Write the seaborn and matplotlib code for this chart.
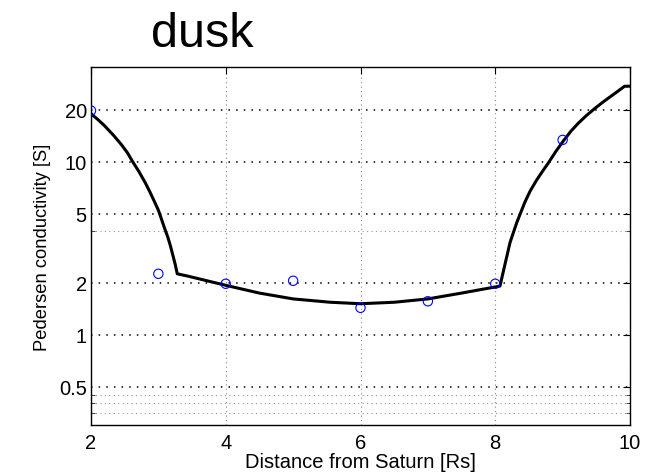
import numpy as np
import pandas as pd
import matplotlib
matplotlib.use("Agg")
import matplotlib.pyplot as plt
import seaborn as sns
from matplotlib.ticker import FixedLocator, NullFormatter, FixedFormatter

# Data
obs_x = [2, 3, 4, 5, 6, 7, 8, 9]
obs_y = [19.8, 2.25, 1.97, 2.05, 1.43, 1.56, 1.97, 13.4]

model_x = [2.0, 2.10, 2.20, 2.33, 2.45, 2.54, 2.62, 2.71, 2.80, 2.87, 2.945, 3.00, 3.043, 3.09, 3.142, 3.18, 3.217,
           3.25, 3.28, 3.44, 3.7, 4.0, 4.5, 5.0, 5.55, 6.0, 6.5, 7.0, 7.5, 8.07,
           8.14, 8.22, 8.32, 8.44, 8.52, 8.61, 8.70, 8.78, 8.90, 9.01, 9.12, 9.23, 9.35, 9.48, 9.58, 9.68, 9.80,
           9.92, 10.0]
model_y = [19.0, 17.6, 16.2, 14.3, 12.6, 11.3, 10.0, 8.8, 7.64, 6.75, 5.85, 5.25, 4.70, 4.15, 3.65, 3.25, 2.86,
           2.55, 2.25, 2.18, 2.06, 1.93, 1.74, 1.61, 1.54, 1.51, 1.54, 1.61, 1.74, 1.91,
           2.51, 3.42, 4.46, 5.85, 6.8, 7.80, 8.8, 9.75, 11.5, 13.2, 15.0, 16.7, 18.5, 20.4, 21.9, 23.4, 25.3,
           27.4, 27.4]

y_major = [0.5, 1, 2, 5, 10, 20]
y_major_labels = ["0.5", "1", "2", "5", "10", "20"]
y_minor = [0.35, 0.4, 0.45, 4]
x_ticks = [2, 4, 6, 8, 10]

sns.set_style("white")
plt.rcParams['font.family'] = ['Liberation Sans', 'DejaVu Sans']
plt.rcParams['text.color'] = 'black'
plt.rcParams['axes.labelcolor'] = 'black'

fig = plt.figure(figsize=(6.57, 4.77), dpi=100)
ax = fig.add_axes([91/657, 1-426/477, (630-91)/657, (426-68)/477])

model = pd.DataFrame({"x": model_x, "y": model_y})
obs = pd.DataFrame({"x": obs_x, "y": obs_y})

ax.set_yscale("log")
sns.lineplot(data=model, x="x", y="y", ax=ax, color="black", linewidth=2.2, sort=False, zorder=3)
sns.scatterplot(data=obs, x="x", y="y", ax=ax, marker="o", s=45, facecolor="none",
                edgecolor="blue", linewidth=0.8, zorder=4)

ax.set_xlim(2, 10)
ax.set_ylim(0.3, 35.4)

ax.xaxis.set_major_locator(FixedLocator(x_ticks))
ax.yaxis.set_major_locator(FixedLocator(y_major))
ax.yaxis.set_major_formatter(FixedFormatter(y_major_labels))
ax.yaxis.set_minor_locator(FixedLocator(y_minor))
ax.yaxis.set_minor_formatter(NullFormatter())

ax.tick_params(axis="both", which="major", direction="in", length=5, width=0.8,
               top=True, right=True, labelsize=14.5, colors="black")
ax.tick_params(axis="x", which="major", pad=6)
ax.tick_params(axis="y", which="major", pad=3)
ax.tick_params(axis="y", which="minor", direction="in", length=3, width=0.6, left=True, right=True)
ax.tick_params(axis="x", which="minor", bottom=False, top=False)

ax.grid(False)
ax.yaxis.grid(True, which="major", color="black", linestyle=(0, (1, 4)), linewidth=1.1)
ax.yaxis.grid(True, which="minor", color="#999999", linestyle=(0, (1, 3)), linewidth=0.8)
ax.xaxis.grid(True, which="major", color="#888888", linestyle=(0, (1, 3)), linewidth=0.8)

for s in ax.spines.values():
    s.set_visible(True)
    s.set_color("black")
    s.set_linewidth(1.0)

ax.set_xlabel("Distance from Saturn [Rs]", fontsize=14.5, labelpad=0)
ax.set_ylabel("Pedersen conductivity [S]", fontsize=13.2, labelpad=6)

fig.text(202/657, 1-47/477, "dusk", fontsize=35, ha="center", va="baseline", color="black")

fig.savefig("out.png", dpi=100)
